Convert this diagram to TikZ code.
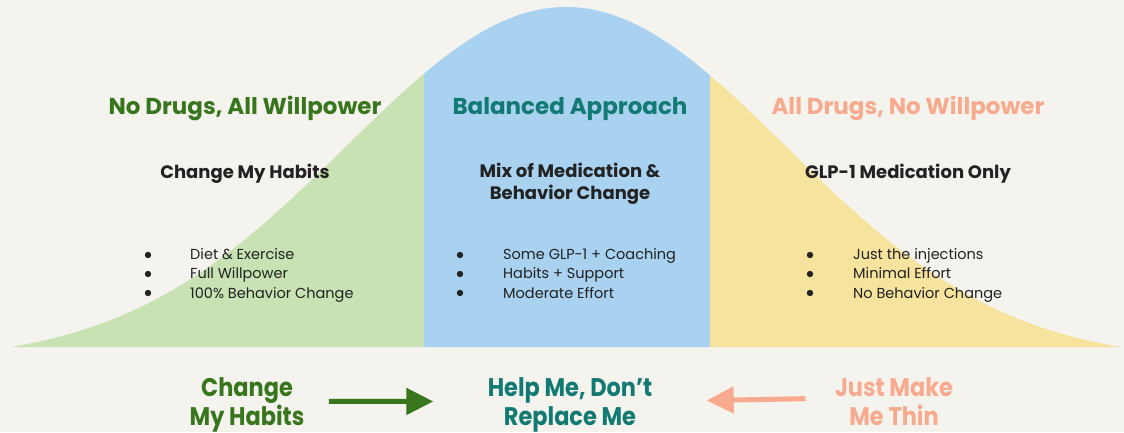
\documentclass[tikz,border=0pt]{standalone}
\usepackage{fontspec}
\setmainfont{Poppins}
\newfontfamily\narrowfont[FakeStretch=0.88]{Poppins}
\usetikzlibrary{arrows.meta}

\definecolor{paper}{HTML}{F4F3EE}
\definecolor{leafgreen}{HTML}{C8E2B3}
\definecolor{skyblue}{HTML}{A9D1F0}
\definecolor{sandyellow}{HTML}{F5E39E}
\definecolor{darkgreen}{HTML}{38761D}
\definecolor{tealtext}{HTML}{127A73}
\definecolor{salmon}{HTML}{F8AA8E}
\definecolor{ink}{HTML}{222222}

\begin{document}
\begin{tikzpicture}[x=1pt,y=1pt,
    title/.style={font=\bfseries\fontsize{23}{28}\selectfont, anchor=base},
    subtitle/.style={font=\bfseries\fontsize{18}{21.5}\selectfont, text=ink, anchor=base, align=center},
    items/.style={font=\fontsize{14.5}{19.5}\selectfont, text=ink, align=left, anchor=base west, inner sep=0pt},
    motto/.style={font=\narrowfont\bfseries\fontsize{25.5}{29}\selectfont, align=center, anchor=base},
    push/.style={line width=5pt, -{Triangle[length=27pt,width=26pt]}}]

        \fill[paper] (0,0) rectangle (1124,432);
        \useasboundingbox (0,0) rectangle (1124,432);

        % bell curve, cut into three bands
        \begin{scope}
          \clip (12,85) -- plot[domain=-5.54:5.54, samples=200, smooth]
            ({566+100*\x}, {85+340*(exp(-\x*\x/9.68)-0.0415)/0.9585}) -- (1120,85) -- cycle;
          \fill[leafgreen] (0,0) rectangle (424,432);
          \fill[skyblue] (424,0) rectangle (710,432);
          \fill[sandyellow] (710,0) rectangle (1124,432);
        \end{scope}

        \node[title, text=darkgreen] (nodrugs) at (245, 317) {No Drugs, All Willpower};
        \node[title, text=tealtext] (balanced) at (570, 317) {Balanced Approach};
        \node[title, text=salmon] (alldrugs) at (908, 317) {All Drugs, No Willpower};

        % last line of each block sits on the given point
        \node[subtitle] (habits) at (245, 254) {Change My Habits};
        \node[subtitle] (mix) at (570, 233) {Mix of Medication \&\\Behavior Change};
        \node[subtitle] (glp) at (908, 254) {GLP-1 Medication Only};

        \node[items] (llist) at (190, 134) {Diet \& Exercise\\Full Willpower\\100\% Behavior Change};
        \node[items] (mlist) at (503, 134) {Some GLP-1 + Coaching\\Habits + Support\\Moderate Effort};
        \node[items] (rlist) at (853, 134) {Just the injections\\Minimal Effort\\No Behavior Change};

        % bullets
        \fill[ink] (148,177) circle (3.2) (148,158) circle (3.2) (148,139) circle (3.2);
        \fill[ink] (460,177) circle (3.2) (460,158) circle (3.2) (460,139) circle (3.2);
        \fill[ink] (810,177) circle (3.2) (810,158) circle (3.2) (810,139) circle (3.2);

        \node[motto, text=darkgreen] (keep) at (247, 7) {Change\\My Habits};
        \node[motto, text=tealtext] (help) at (570, 7) {Help Me, Don’t\\Replace Me};
        \node[motto, text=salmon] (thin) at (894, 7) {Just Make\\Me Thin};

        \draw[push, darkgreen, shorten <=21pt, shorten >=51pt] ([yshift=3pt]keep.east) to ([yshift=3pt]help.west);
        \draw[push, salmon, shorten <=26pt, shorten >=51pt] ([yshift=3pt]thin.west) to ([yshift=3pt]help.east);

      \end{tikzpicture}
\end{document}
